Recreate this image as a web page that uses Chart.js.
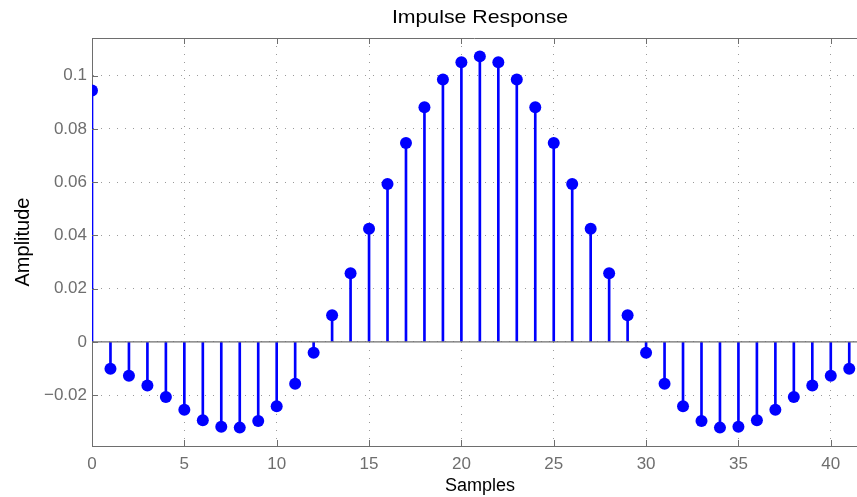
<!DOCTYPE html>
<html>
<head>
<meta charset="utf-8">
<script src="https://cdn.jsdelivr.net/npm/chart.js@4"></script>
<style>
html,body{margin:0;padding:0;background:#fff;overflow:hidden;}
#wrap{width:857px;height:497px;position:relative;}
</style>
</head>
<body>
<div id="wrap"><canvas id="c" width="857" height="497"></canvas></div>
<script>
// ---- data ----
const samples = [0,1,2,3,4,5,6,7,8,9,10,11,12,13,14,15,16,17,18,19,20,21,22,23,24,25,26,27,28,29,30,31,32,33,34,35,36,37,38,39,40,41];
const amplitude = [0.0944,-0.0101,-0.0127,-0.0164,-0.0207,-0.0255,-0.0294,-0.0319,-0.0322,-0.0297,-0.0242,-0.0157,-0.0041,
  0.0100,0.0258,0.0425,0.0593,0.0747,0.0881,0.0985,0.1050,0.1072,0.1050,0.0985,0.0881,0.0747,0.0593,0.0425,0.0258,0.0100,
  -0.0041,-0.0157,-0.0242,-0.0297,-0.0322,-0.0319,-0.0294,-0.0255,-0.0207,-0.0164,-0.0127,-0.0101];
const xTicks = [0,5,10,15,20,25,30,35,40];
const xTickLabels = ['0','5','10','15','20','25','30','35','40'];
const yTicks = [-0.02,0,0.02,0.04,0.06,0.08,0.1];
const yTickLabels = ['\u22120.02','0','0.02','0.04','0.06','0.08','0.1'];
const titleText = 'Impulse Response';
const xLabel = 'Samples';
const yLabel = 'Amplitude';

const points = samples.map((s,i)=>({x:s,y:amplitude[i]}));
const FONT = '"Liberation Sans", Arial, Helvetica, sans-serif';
const AXIS = '#6e6e6e';

const framePlugin = {
  id:'frame',
  afterDatasetDraw(chart,args){
    if(args.meta.type!=='bar') return;
    const {ctx,chartArea:a,scales:{y}} = chart;
    const y0 = y.getPixelForValue(0);
    ctx.save();
    ctx.strokeStyle=AXIS; ctx.lineWidth=1.2;
    ctx.beginPath(); ctx.moveTo(a.left,y0); ctx.lineTo(a.right,y0); ctx.stroke();
    ctx.restore();
  },
  afterDraw(chart){
    const {ctx,chartArea:a,scales:{x,y}} = chart;
    ctx.save();
    ctx.strokeStyle=AXIS; ctx.lineWidth=1;
    // top border
    ctx.beginPath(); ctx.moveTo(a.left,a.top+0.5); ctx.lineTo(a.right,a.top+0.5); ctx.stroke();
    // inward ticks
    const L=6;
    ctx.beginPath();
    xTicks.forEach(v=>{
      const px=Math.round(x.getPixelForValue(v))+0.5;
      ctx.moveTo(px,a.bottom); ctx.lineTo(px,a.bottom-L);
      ctx.moveTo(px,a.top); ctx.lineTo(px,a.top+L);
    });
    yTicks.forEach(v=>{
      const py=Math.round(y.getPixelForValue(v))+0.5;
      ctx.moveTo(a.left,py); ctx.lineTo(a.left+L,py);
    });
    ctx.stroke();
    // title
    ctx.fillStyle='#000';
    ctx.textAlign='center'; ctx.textBaseline='alphabetic';
    ctx.save();
    ctx.translate(480,23.3); ctx.scale(1.12,1);
    ctx.font='19px '+FONT;
    ctx.fillText(titleText,0,0);
    ctx.restore();
    // x label
    ctx.font='18px '+FONT;
    ctx.fillText(xLabel,480,491);
    // y label
    ctx.save();
    ctx.translate(28.5,242); ctx.rotate(-Math.PI/2);
    ctx.font='20px '+FONT;
    ctx.fillText(yLabel,0,0);
    ctx.restore();
    ctx.restore();
  }
};

new Chart(document.getElementById('c'),{
  type:'bar',
  data:{
    datasets:[
      {type:'scatter',data:points,pointRadius:6,pointHoverRadius:6,pointBackgroundColor:'#0000ff',pointBorderWidth:0,pointBorderColor:'#0000ff',order:1},
      {type:'bar',data:points,backgroundColor:'#0000ff',borderWidth:0,barThickness:2,order:2}
    ]
  },
  options:{
    responsive:false,animation:false,devicePixelRatio:1,
    layout:{autoPadding:false,padding:{top:38,left:0,right:0,bottom:0}},
    plugins:{legend:{display:false},tooltip:{enabled:false},title:{display:false}},
    scales:{
      x:{
        type:'linear',min:0,max:41.42,offset:false,
        grid:{offset:false,color:'#9a9a9a',lineWidth:1,drawTicks:false},
        border:{display:true,color:AXIS,width:1,dash:[1,7]},
        ticks:{includeBounds:false,color:AXIS,font:{family:FONT,size:17},padding:8,maxRotation:0,autoSkip:false,
          callback:(v,i)=>xTickLabels[i]},
        afterBuildTicks:s=>{s.ticks=xTicks.map(v=>({value:v}));},
        afterFit:s=>{s.height=51;s.paddingLeft=0;s.paddingRight=0;}
      },
      y:{
        type:'linear',min:-0.0391,max:0.1141,
        grid:{color:'#9a9a9a',lineWidth:1,drawTicks:false},
        border:{display:true,color:AXIS,width:1,dash:[1,7]},
        ticks:{includeBounds:false,color:AXIS,font:{family:FONT,size:17},padding:5,autoSkip:false,
          callback:(v,i)=>yTickLabels[i]},
        afterBuildTicks:s=>{s.ticks=yTicks.map(v=>({value:v}));},
        afterFit:s=>{s.width=92;s.paddingTop=0;s.paddingBottom=0;}
      }
    }
  },
  plugins:[framePlugin]
});
</script>
</body>
</html>
